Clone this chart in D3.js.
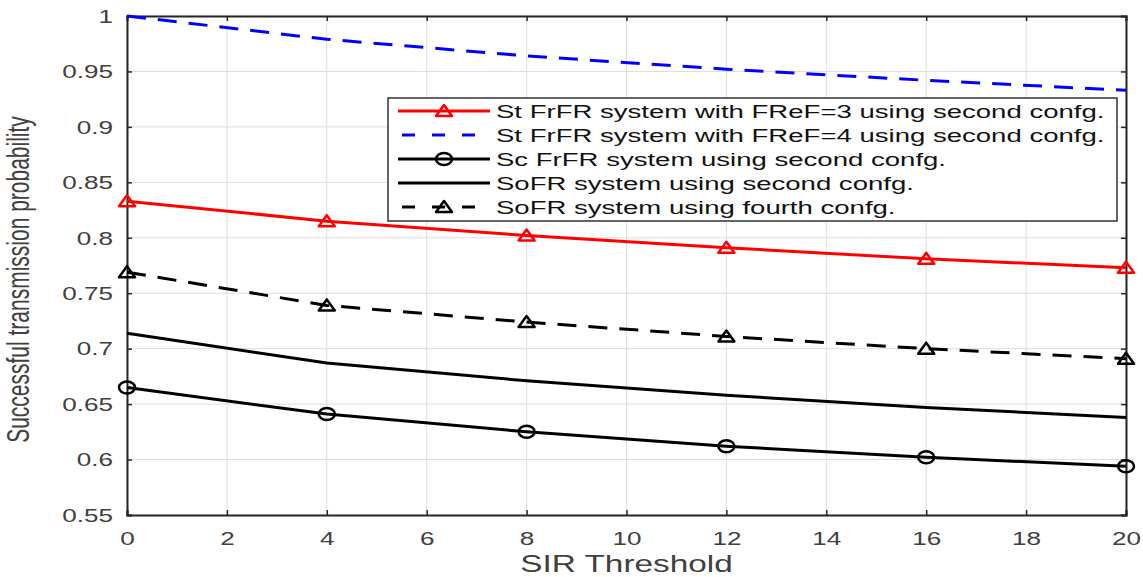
<!DOCTYPE html>
<html>
<head>
<meta charset="utf-8">
<script src="https://cdn.jsdelivr.net/npm/d3@7"></script>
<style>
  body { margin: 0; background: #fff; }
  svg { display: block; font-family: "Liberation Sans", Arial, sans-serif; }
</style>
</head>
<body>
<div id="content"></div>
<script>
// values
const sir = [0, 4, 8, 12, 16, 20];
const stFrFR3 = [0.833, 0.815, 0.802, 0.791, 0.781, 0.773];
const stFrFR4 = [1.0, 0.979, 0.964, 0.952, 0.942, 0.933];
const scFrFR = [0.665, 0.641, 0.625, 0.612, 0.602, 0.594];
const soFR2 = [0.714, 0.687, 0.671, 0.658, 0.647, 0.638];
const soFR4 = [0.769, 0.739, 0.724, 0.711, 0.700, 0.691];

const xTicks = d3.range(0, 21, 2);
const yTicks = [0.55, 0.6, 0.65, 0.7, 0.75, 0.8, 0.85, 0.9, 0.95, 1];
const legendNames = [
  'St FrFR system with FReF=3 using second confg.',
  'St FrFR system with FReF=4 using second confg.',
  'Sc FrFR system using second confg.',
  'SoFR system using second confg.',
  'SoFR system using fourth confg.'
];

const width = 1143, height = 577;
const plotLeft = 127, plotRight = 1126, plotTop = 16, plotBottom = 515;
const sx = 1.45; // the picture is stretched sideways

const x = d3.scaleLinear().domain([0, 20]).range([plotLeft, plotRight]);
const y = d3.scaleLinear().domain([0.55, 1]).range([plotBottom, plotTop]);

const series = [
  { name: legendNames[0], values: stFrFR3, color: '#ff0000', dash: null, marker: 'tri' },
  { name: legendNames[1], values: stFrFR4, color: '#0000ff', dash: '19,12', marker: null },
  { name: legendNames[2], values: scFrFR, color: '#000', dash: null, marker: 'circle' },
  { name: legendNames[3], values: soFR2, color: '#000', dash: null, marker: null },
  { name: legendNames[4], values: soFR4, color: '#000', dash: '19,12', marker: 'tri' }
];

const svg = d3.select('#content').append('svg')
  .attr('width', width)
  .attr('height', height);

// grid
svg.append('g').selectAll('line')
  .data(xTicks)
  .join('line')
  .attr('x1', d => x(d)).attr('x2', d => x(d))
  .attr('y1', plotTop).attr('y2', plotBottom)
  .attr('stroke', '#dedede').attr('stroke-width', 1);

svg.append('g').selectAll('line')
  .data(yTicks)
  .join('line')
  .attr('y1', d => y(d)).attr('y2', d => y(d))
  .attr('x1', plotLeft).attr('x2', plotRight)
  .attr('stroke', '#dedede').attr('stroke-width', 1);

// axes
const xAxis = svg.append('g')
  .attr('transform', `translate(0,${plotBottom})`)
  .call(d3.axisBottom(x).tickValues(xTicks).tickSize(-5).tickFormat(d3.format('d')));

const yAxis = svg.append('g')
  .attr('transform', `translate(${plotLeft},0)`)
  .call(d3.axisLeft(y).tickValues(yTicks).tickSize(-5).tickFormat(d => String(+d.toFixed(2))));

svg.append('g')
  .attr('transform', `translate(0,${plotTop})`)
  .call(d3.axisTop(x).tickValues(xTicks).tickSize(-5).tickFormat(''));

svg.append('g')
  .attr('transform', `translate(${plotRight},0)`)
  .call(d3.axisRight(y).tickValues(yTicks).tickSize(-5).tickFormat(''));

svg.selectAll('.domain').attr('stroke', '#262626').attr('stroke-width', 2);
svg.selectAll('.tick line').attr('stroke', '#262626').attr('stroke-width', 1.5);

xAxis.selectAll('.tick text')
  .attr('y', 0).attr('dy', 0)
  .attr('transform', `translate(0,30) scale(${sx},1)`)
  .attr('font-size', 18)
  .attr('fill', '#404040');

yAxis.selectAll('.tick text')
  .attr('x', 0).attr('dy', '0.35em')
  .attr('transform', `translate(-14,0) scale(${sx},1)`)
  .attr('font-size', 18)
  .attr('fill', '#404040');

svg.selectAll('.tick text').attr('font-family', '"Liberation Sans", Arial, sans-serif');

// axis titles
svg.append('text')
  .attr('transform', `translate(${(plotLeft + plotRight) / 2},572) scale(${sx},1)`)
  .attr('text-anchor', 'middle')
  .attr('font-size', 23)
  .attr('fill', '#404040')
  .text('SIR Threshold');

svg.append('text')
  .attr('transform', `translate(29,${(plotTop + plotBottom) / 2 + 14}) scale(${sx},1) rotate(-90)`)
  .attr('text-anchor', 'middle')
  .attr('font-size', 21)
  .attr('fill', '#404040')
  .text('Successful transmission probability');

// lines
const line = d3.line()
  .x((d, i) => x(sir[i]))
  .y(d => y(d));

function drawMarker(g, type, color) {
  if (type === 'tri') {
    g.append('path')
      .attr('d', 'M0,-6L8,5L-8,5Z')
      .attr('fill', 'none')
      .attr('stroke', color)
      .attr('stroke-width', 2.5)
      .attr('stroke-linejoin', 'round');
  } else if (type === 'circle') {
    g.append('ellipse')
      .attr('rx', 8).attr('ry', 6)
      .attr('fill', 'none')
      .attr('stroke', color)
      .attr('stroke-width', 2.5);
  }
}

series.forEach(s => {
  svg.append('path')
    .datum(s.values)
    .attr('d', line)
    .attr('fill', 'none')
    .attr('stroke', s.color)
    .attr('stroke-width', 3)
    .attr('stroke-dasharray', s.dash);

  if (s.marker) {
    s.values.forEach((v, i) => {
      const g = svg.append('g').attr('transform', `translate(${x(sir[i])},${y(v)})`);
      drawMarker(g, s.marker, s.color);
    });
  }
});

// legend
const legend = svg.append('g');
legend.append('rect')
  .attr('x', 388).attr('y', 98)
  .attr('width', 729).attr('height', 123)
  .attr('fill', '#fff')
  .attr('stroke', '#333')
  .attr('stroke-width', 1.5);

series.forEach((s, i) => {
  const ly = 111 + i * 24;
  legend.append('line')
    .attr('x1', 398).attr('x2', 490)
    .attr('y1', ly).attr('y2', ly)
    .attr('stroke', s.color)
    .attr('stroke-width', 3)
    .attr('stroke-dasharray', s.dash ? '13,17' : null)
    .attr('stroke-dashoffset', s.dash ? -4 : null);
  if (s.marker) {
    const g = legend.append('g').attr('transform', `translate(444,${ly})`);
    drawMarker(g, s.marker, s.color);
  }
  legend.append('text')
    .attr('transform', `translate(496,${ly}) scale(${sx},1)`)
    .attr('dy', '0.35em')
    .attr('font-size', 19)
    .attr('fill', '#111')
    .text(s.name);
});
</script>
</body>
</html>
